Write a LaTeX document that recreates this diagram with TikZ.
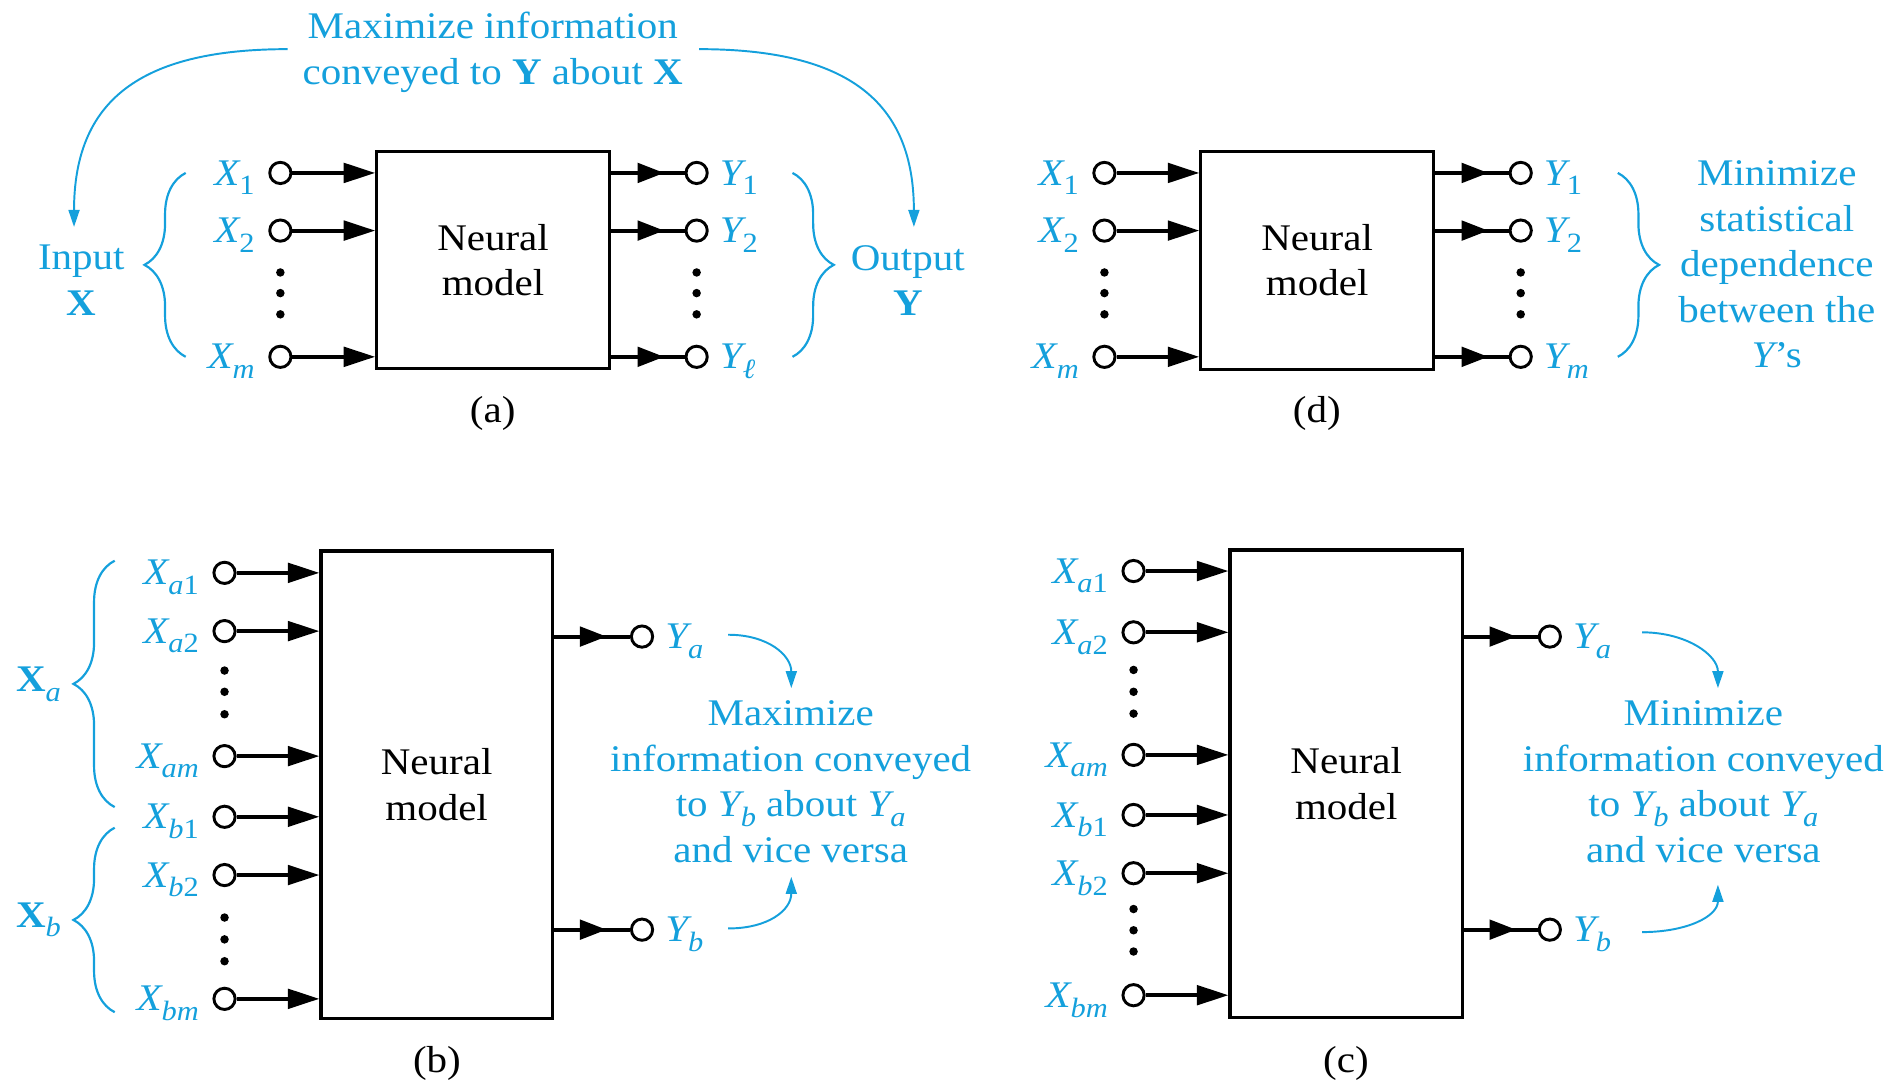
\documentclass[tikz,border=0pt]{standalone}
\usepackage{fontspec}
\setmainfont[FakeStretch=1.09]{Liberation Serif}
\usetikzlibrary{arrows.meta,calc,decorations.pathreplacing}
\definecolor{ublue}{RGB}{20,160,220}
\newcommand\nmfont{\fontsize{31}{37.5}\selectfont}
\newcommand\sbx[1]{\raisebox{-8pt}{\fontsize{23}{23}\selectfont #1}}
\newcommand\iv[2]{{\itshape #1}\sbx{#2}}
\begin{document}
\begin{tikzpicture}[x=1pt,y=-1pt,
  wire/.style={line width=3.2pt,draw=black},
  inarr/.style={wire,-{Triangle[length=26pt,width=16pt]}},
  outarr/.style={wire,-{Triangle[length=22pt,width=16pt]}},
  term/.style={circle,draw=black,line width=2.4pt,minimum size=17.5pt,inner sep=0pt,fill=white},
  tdot/.style={circle,fill=black,inner sep=0pt,minimum size=7pt},
  nbox/.style={draw=black,line width=2.6pt,align=center,font=\nmfont,text=black,inner sep=0pt},
  lbl/.style={text=ublue,inner sep=0pt,font=\nmfont},
  mtxt/.style={lbl,align=center},
  plabel/.style={text=black,inner sep=0pt,font=\nmfont},
  bluearr/.style={draw=ublue,line width=1.6pt,-{Triangle[length=14pt,width=9pt]}},
  bbrace/.style={draw=ublue,line width=1.8pt,decorate,decoration={brace,amplitude=34pt}},
]
\useasboundingbox (0,0) rectangle (1568,894);

% ================= (a) =================
\node[nbox,minimum width=191.5pt,minimum height=178.5pt] (boxA) at (406.25,214.25) {Neural\\model};
\node[term] (ax1) at (231,142.5) {};
\node[term] (ax2) at (231,190) {};
\node[term] (axm) at (231,294) {};
\node[term] (ay1) at (574,142.5) {};
\node[term] (ay2) at (574,190) {};
\node[term] (ayl) at (574,294) {};
\foreach \p in {ax1,ax2,axm}{\draw[inarr] (\p.east) -- (\p -| boxA.west);}
\foreach \p in {ay1,ay2,ayl}{
  \draw[wire] (\p -| boxA.east) -- (\p.west);
  \draw[outarr] (\p -| boxA.east) -- ($(\p -| boxA.east)+(44,0)$);}
\node[tdot] (adl1) at (231,224.5) {};
\node[tdot] (adl2) at (231,241.5) {};
\node[tdot] (adl3) at (231,259) {};
\node[tdot] (adr1) at (574,224.5) {};
\node[tdot] (adr2) at (574,241.5) {};
\node[tdot] (adr3) at (574,259) {};
\node[lbl,anchor=base east] (lax1) at ($(ax1.west)+(-11,10)$) {\iv{X}{1}};
\node[lbl,anchor=base east] (lax2) at ($(ax2.west)+(-11,10)$) {\iv{X}{2}};
\node[lbl,anchor=base east] (laxm) at ($(axm.west)+(-11,10)$) {\iv{X}{\itshape m}};
\node[lbl,anchor=base west] (lay1) at ($(ay1.east)+(9,10)$) {\iv{Y}{1}};
\node[lbl,anchor=base west] (lay2) at ($(ay2.east)+(9,10)$) {\iv{Y}{2}};
\node[lbl,anchor=base west] (layl) at ($(ayl.east)+(9,10)$) {\iv{Y}{\itshape ℓ}};
\draw[bbrace] (153,294) -- (153,142.5);
\draw[bbrace] (653,142.5) -- (653,294);
\node[mtxt] (inX) at (67,231) {Input\\\textbf{X}};
\node[mtxt] (outY) at (748,231) {Output\\\textbf{Y}};
\node[mtxt] (topA) at (406,43) {Maximize information\\conveyed to \textbf{Y} about \textbf{X}};
\coordinate (tls) at (237,40.5);
\coordinate (tle) at (61,187);
\coordinate (trs) at (576,40.5);
\coordinate (tre) at (753,187);
\draw[bluearr] (tls) .. controls (114,40.5) and (61,84) .. (tle);
\draw[bluearr] (trs) .. controls (699,40.5) and (753,84) .. (tre);
\node[plabel] (capA) at (406,341) {(a)};

% ================= (d) =================
\node[nbox,minimum width=191.5pt,minimum height=179.5pt] (boxD) at (1085.25,214.5) {Neural\\model};
\node[term] (dx1) at (910,142.5) {};
\node[term] (dx2) at (910,190) {};
\node[term] (dxm) at (910,294) {};
\node[term] (dy1) at (1253,142.5) {};
\node[term] (dy2) at (1253,190) {};
\node[term] (dym) at (1253,294) {};
\foreach \p in {dx1,dx2,dxm}{\draw[inarr] (\p.east) -- (\p -| boxD.west);}
\foreach \p in {dy1,dy2,dym}{
  \draw[wire] (\p -| boxD.east) -- (\p.west);
  \draw[outarr] (\p -| boxD.east) -- ($(\p -| boxD.east)+(44,0)$);}
\node[tdot] (ddl1) at (910,224.5) {};
\node[tdot] (ddl2) at (910,241.5) {};
\node[tdot] (ddl3) at (910,259) {};
\node[tdot] (ddr1) at (1253,224.5) {};
\node[tdot] (ddr2) at (1253,241.5) {};
\node[tdot] (ddr3) at (1253,259) {};
\node[lbl,anchor=base east] (ldx1) at ($(dx1.west)+(-11,10)$) {\iv{X}{1}};
\node[lbl,anchor=base east] (ldx2) at ($(dx2.west)+(-11,10)$) {\iv{X}{2}};
\node[lbl,anchor=base east] (ldxm) at ($(dxm.west)+(-11,10)$) {\iv{X}{\itshape m}};
\node[lbl,anchor=base west] (ldy1) at ($(dy1.east)+(9,10)$) {\iv{Y}{1}};
\node[lbl,anchor=base west] (ldy2) at ($(dy2.east)+(9,10)$) {\iv{Y}{2}};
\node[lbl,anchor=base west] (ldym) at ($(dym.east)+(9,10)$) {\iv{Y}{\itshape m}};
\draw[bbrace] (1333,142.5) -- (1333,294);
\node[mtxt] (txtD) at (1464,218) {Minimize\\statistical\\dependence\\between the\\{\itshape Y}’s};
\node[plabel] (capD) at (1085,341) {(d)};

% ================= (b) =================
\node[nbox,minimum width=190.5pt,minimum height=385pt] (boxB) at (359.75,646.5) {Neural\\model};
\node[term] (bxa1) at (185,472) {};
\node[term] (bxa2) at (185,520) {};
\node[term] (bxam) at (185,623) {};
\node[term] (bxb1) at (185,673) {};
\node[term] (bxb2) at (185,721) {};
\node[term] (bxbm) at (185,823) {};
\node[term] (bya) at (529,524.5) {};
\node[term] (byb) at (529,766) {};
\foreach \p in {bxa1,bxa2,bxam,bxb1,bxb2,bxbm}{\draw[inarr] (\p.east) -- (\p -| boxB.west);}
\foreach \p in {bya,byb}{
  \draw[wire] (\p -| boxB.east) -- (\p.west);
  \draw[outarr] (\p -| boxB.east) -- ($(\p -| boxB.east)+(43.5,0)$);}
\node[tdot] (bd1) at (185,552.5) {};
\node[tdot] (bd2) at (185,570) {};
\node[tdot] (bd3) at (185,588.5) {};
\node[tdot] (bd4) at (185,756) {};
\node[tdot] (bd5) at (185,774) {};
\node[tdot] (bd6) at (185,792) {};
\node[lbl,anchor=base east] (lbxa1) at ($(bxa1.west)+(-11,10)$) {\iv{X}{{\itshape a}1}};
\node[lbl,anchor=base east] (lbxa2) at ($(bxa2.west)+(-11,10)$) {\iv{X}{{\itshape a}2}};
\node[lbl,anchor=base east] (lbxam) at ($(bxam.west)+(-11,10)$) {\iv{X}{\itshape am}};
\node[lbl,anchor=base east] (lbxb1) at ($(bxb1.west)+(-11,10)$) {\iv{X}{{\itshape b}1}};
\node[lbl,anchor=base east] (lbxb2) at ($(bxb2.west)+(-11,10)$) {\iv{X}{{\itshape b}2}};
\node[lbl,anchor=base east] (lbxbm) at ($(bxbm.west)+(-11,10)$) {\iv{X}{\itshape bm}};
\node[lbl,anchor=base west] (lbya) at ($(bya.east)+(9,10)$) {\iv{Y}{\itshape a}};
\node[lbl,anchor=base west] (lbyb) at ($(byb.east)+(9,10)$) {\iv{Y}{\itshape b}};
\draw[bbrace] (94.5,665) -- (94.5,462);
\draw[bbrace] (94.5,834) -- (94.5,682);
\node[lbl,anchor=base west] (lXa) at (13,570) {\textbf{X}\sbx{\itshape a}};
\node[lbl,anchor=base west] (lXb) at (13,764) {\textbf{X}\sbx{\itshape b}};
\node[mtxt] (txtB) at (651.5,644) {Maximize\\information conveyed\\to \iv{Y}{\itshape b} about \iv{Y}{\itshape a}\\and vice versa};
\coordinate (bas) at (600,523);
\coordinate (bae) at (652,567);
\coordinate (bbs) at (600,765);
\coordinate (bbe) at (652,722.5);
\draw[bluearr] (bas) .. controls (633,523) and (652,540) .. (bae);
\draw[bluearr] (bbs) .. controls (633,765) and (652,750) .. (bbe);
\node[plabel] (capB) at (360,876.5) {(b)};

% ================= (c) =================
\node[nbox,minimum width=191.5pt,minimum height=385pt] (boxC) at (1109.25,645.7) {Neural\\model};
\node[term] (cxa1) at (934,470.5) {};
\node[term] (cxa2) at (934,521) {};
\node[term] (cxam) at (934,622) {};
\node[term] (cxb1) at (934,671.5) {};
\node[term] (cxb2) at (934,719.5) {};
\node[term] (cxbm) at (934,820) {};
\node[term] (cya) at (1277,524.5) {};
\node[term] (cyb) at (1277,766) {};
\foreach \p in {cxa1,cxa2,cxam,cxb1,cxb2,cxbm}{\draw[inarr] (\p.east) -- (\p -| boxC.west);}
\foreach \p in {cya,cyb}{
  \draw[wire] (\p -| boxC.east) -- (\p.west);
  \draw[outarr] (\p -| boxC.east) -- ($(\p -| boxC.east)+(43,0)$);}
\node[tdot] (cd1) at (934,552) {};
\node[tdot] (cd2) at (934,570) {};
\node[tdot] (cd3) at (934,588) {};
\node[tdot] (cd4) at (934,749) {};
\node[tdot] (cd5) at (934,766.5) {};
\node[tdot] (cd6) at (934,784) {};
\node[lbl,anchor=base east] (lcxa1) at ($(cxa1.west)+(-11,10)$) {\iv{X}{{\itshape a}1}};
\node[lbl,anchor=base east] (lcxa2) at ($(cxa2.west)+(-11,10)$) {\iv{X}{{\itshape a}2}};
\node[lbl,anchor=base east] (lcxam) at ($(cxam.west)+(-11,10)$) {\iv{X}{\itshape am}};
\node[lbl,anchor=base east] (lcxb1) at ($(cxb1.west)+(-11,10)$) {\iv{X}{{\itshape b}1}};
\node[lbl,anchor=base east] (lcxb2) at ($(cxb2.west)+(-11,10)$) {\iv{X}{{\itshape b}2}};
\node[lbl,anchor=base east] (lcxbm) at ($(cxbm.west)+(-11,10)$) {\iv{X}{\itshape bm}};
\node[lbl,anchor=base west] (lcya) at ($(cya.east)+(9,10)$) {\iv{Y}{\itshape a}};
\node[lbl,anchor=base west] (lcyb) at ($(cyb.east)+(9,10)$) {\iv{Y}{\itshape b}};
\node[mtxt] (txtC) at (1403.5,644) {Minimize\\information conveyed\\to \iv{Y}{\itshape b} about \iv{Y}{\itshape a}\\and vice versa};
\coordinate (cas) at (1353,521);
\coordinate (cae) at (1415.5,567);
\coordinate (cbs) at (1353,768);
\coordinate (cbe) at (1415.5,729);
\draw[bluearr] (cas) .. controls (1390,521) and (1415.5,540) .. (cae);
\draw[bluearr] (cbs) .. controls (1390,768) and (1415.5,755) .. (cbe);
\node[plabel] (capC) at (1109,876.5) {(c)};
\end{tikzpicture}
\end{document}
